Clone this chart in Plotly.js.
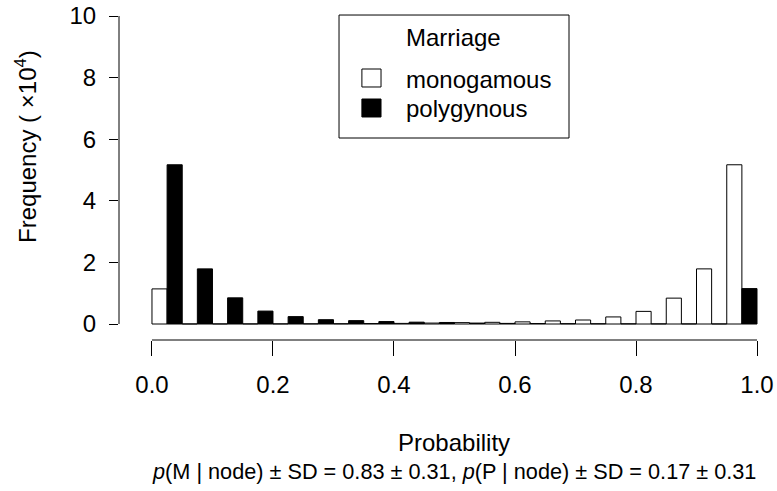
<!DOCTYPE html>
<html>
<head>
<meta charset="utf-8">
<script src="https://cdn.plot.ly/plotly-3.0.1.min.js"></script>
<style>html,body{margin:0;padding:0;background:#fff;}#chart{width:777px;height:491px;}</style>
</head>
<body>
<div id="chart"></div>
<script>
// Bin midpoints of the probability histogram (bin width 0.05)
var binMid = [0.025, 0.075, 0.125, 0.175, 0.225, 0.275, 0.325, 0.375, 0.425, 0.475,
              0.525, 0.575, 0.625, 0.675, 0.725, 0.775, 0.825, 0.875, 0.925, 0.975];
// Frequencies (x 10^4)
var monogamous = [1.14, 0.002, 0.003, 0.004, 0.006, 0.008, 0.01, 0.015, 0.02, 0.03,
                  0.045, 0.055, 0.07, 0.10, 0.13, 0.23, 0.41, 0.84, 1.79, 5.17];
var polygynous = [5.17, 1.79, 0.85, 0.42, 0.24, 0.14, 0.11, 0.08, 0.06, 0.05,
                  0.03, 0.02, 0.015, 0.01, 0.008, 0.006, 0.004, 0.003, 0.002, 1.15];
var seriesNames = ["monogamous", "polygynous"];
var seriesColors = ["#ffffff", "#000000"];
var legendTitle = "Marriage";
var xTickVals = [0, 0.2, 0.4, 0.6, 0.8, 1.0];
var xTickText = ["0.0", "0.2", "0.4", "0.6", "0.8", "1.0"];
var yTickVals = [0, 2, 4, 6, 8, 10];
var yTickText = ["0", "2", "4", "6", "8", "10"];

var FONT = "Liberation Sans, Arial, Helvetica, sans-serif";

var traces = [
  {type: "bar", name: seriesNames[0], x: binMid, y: monogamous,
   marker: {color: seriesColors[0], line: {color: "#000000", width: 1}}, hoverinfo: "x+y"},
  {type: "bar", name: seriesNames[1], x: binMid, y: polygynous,
   marker: {color: seriesColors[1], line: {color: "#000000", width: 1}}, hoverinfo: "x+y"}
];

// legend drawn as a boxed key (paper coordinates)
var legShapes = [
  {type: "rect", xref: "paper", yref: "paper", x0: 0.3406, x1: 0.6966, y0: 0.6121, y1: 0.9848,
   line: {color: "#000000", width: 1}, fillcolor: "#ffffff", layer: "above"},
  {type: "rect", xref: "paper", yref: "paper", x0: 0.376, x1: 0.4056, y0: 0.7667, y1: 0.8212,
   line: {color: "#000000", width: 1}, fillcolor: seriesColors[0], layer: "above"},
  {type: "rect", xref: "paper", yref: "paper", x0: 0.376, x1: 0.4056, y0: 0.6758, y1: 0.7303,
   line: {color: "#000000", width: 1}, fillcolor: seriesColors[1], layer: "above"}
];
var legAnn = [
  {text: legendTitle, xref: "paper", yref: "paper", x: 0.4412, y: 0.9152,
   xanchor: "left", yanchor: "middle", showarrow: false,
   font: {family: FONT, size: 24, color: "#000000"}},
  {text: seriesNames[0], xref: "paper", yref: "paper", x: 0.4412, y: 0.7909,
   xanchor: "left", yanchor: "middle", showarrow: false,
   font: {family: FONT, size: 24, color: "#000000"}},
  {text: seriesNames[1], xref: "paper", yref: "paper", x: 0.4412, y: 0.7030,
   xanchor: "left", yanchor: "middle", showarrow: false,
   font: {family: FONT, size: 24, color: "#000000"}}
];

var layout = {
  width: 777, height: 491,
  margin: {l: 119, r: 12, t: 10, b: 151, pad: 0},
  paper_bgcolor: "#ffffff", plot_bgcolor: "#ffffff",
  font: {family: FONT, size: 24, color: "#000000"},
  barmode: "group", bargap: 0, bargroupgap: 0,
  showlegend: false,
  xaxis: {
    range: [-0.0545, 1.0132], tickmode: "array", tickvals: xTickVals, ticktext: xTickText,
    ticks: "outside", ticklen: 15, tickwidth: 1, tickcolor: "#000000",
    showline: false, showgrid: false, zeroline: false, fixedrange: true,
    tickfont: {family: FONT, size: 24, color: "#000000"}, ticklabelstandoff: 8
  },
  yaxis: {
    range: [-0.519, 10.195], tickmode: "array", tickvals: yTickVals, ticktext: yTickText,
    ticks: "outside", ticklen: 9, tickwidth: 1, tickcolor: "#000000",
    showline: false, showgrid: false, zeroline: false, fixedrange: true,
    tickfont: {family: FONT, size: 24, color: "#000000"}, ticklabelstandoff: 8
  },
  shapes: [
    {type: "line", xref: "paper", yref: "y", x0: 0, x1: 0, y0: 0, y1: 10,
     line: {color: "#000000", width: 1}},
    {type: "line", xref: "x", yref: "paper", x0: 0, x1: 1, y0: 0, y1: 0,
     line: {color: "#000000", width: 1}}
  ].concat(legShapes),
  annotations: [
    {text: "Frequency ( \u00d710<sup>4</sup>)", xref: "paper", yref: "paper",
     x: -0.1440, y: 0.588, xanchor: "center", yanchor: "middle", textangle: -90,
     showarrow: false, font: {family: FONT, size: 24, color: "#000000"}},
    {text: "Probability", xref: "x", yref: "paper", x: 0.5, y: -0.312,
     xanchor: "center", yanchor: "middle", showarrow: false,
     font: {family: FONT, size: 24, color: "#000000"}},
    {text: "<i>p</i>(M | node) \u00b1 SD = 0.83 \u00b1 0.31, <i>p</i>(P | node) \u00b1 SD = 0.17 \u00b1 0.31",
     xref: "x", yref: "paper", x: 0.5, y: -0.4,
     xanchor: "center", yanchor: "middle", showarrow: false,
     font: {family: FONT, size: 21.7, color: "#000000"}}
  ].concat(legAnn)
};

Plotly.newPlot("chart", traces, layout, {displayModeBar: false, staticPlot: true});
</script>
</body>
</html>
